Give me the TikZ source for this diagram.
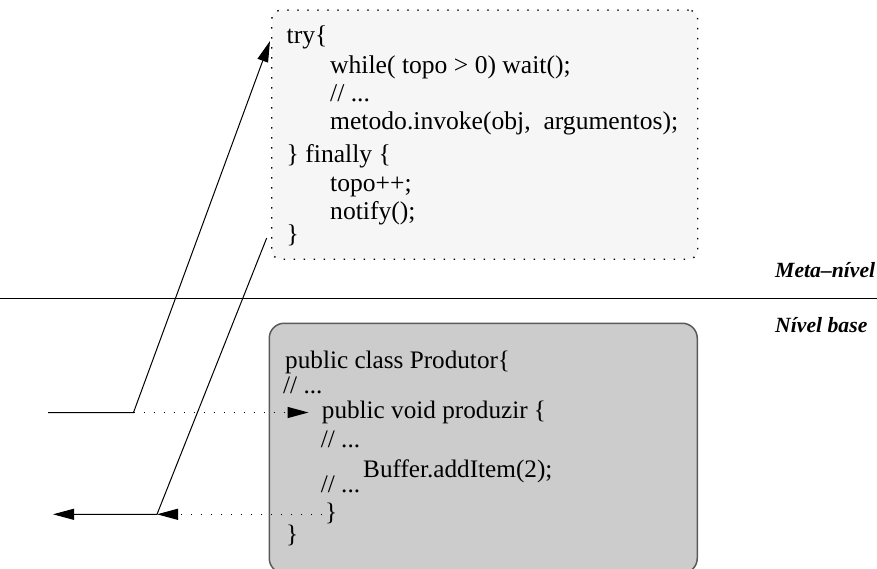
\documentclass[tikz,border=0pt]{standalone}
\usepackage{fontspec}
\setmainfont{Liberation Serif}
\usetikzlibrary{arrows.meta}
\definecolor{metafill}{HTML}{F6F6F6}
\definecolor{basefill}{HTML}{CCCCCC}
\definecolor{baseedge}{HTML}{5A5A5A}
\tikzset{
  metabox/.style={draw=black, fill=metafill, line width=1.4pt, dash pattern=on 1.4pt off 8.6pt, rounded corners=9pt, inner sep=0pt, anchor=north west},
  basebox/.style={draw=baseedge, fill=basefill, line width=1.5pt, rounded corners=15pt, inner sep=0pt, anchor=north west},
  codeA/.style={anchor=base west, inner sep=0pt, font=\fontsize{25.6}{30}\selectfont},
  codeB/.style={anchor=base west, inner sep=0pt, font=\fontsize{25.2}{30}\selectfont},
  levellabel/.style={anchor=base west, inner sep=0pt, font=\fontsize{21.7}{26}\selectfont\bfseries\itshape},
  solidconn/.style={draw=black, line width=1pt, -{Triangle[length=21pt,width=11pt]}},
  dotconn/.style={draw=black, line width=1.2pt, dash pattern=on 1.2pt off 8.8pt, -{Triangle[length=21pt,width=11pt]}},
}
\begin{document}
\begin{tikzpicture}[x=1pt,y=-1pt]
\useasboundingbox (0,0) rectangle (877,569);
% level separator
\coordinate (sepL) at (0,298);
\coordinate (sepR) at (877,298);
\draw[line width=1pt] (sepL) -- (sepR);
\node[levellabel] (metalbl) at (775,277) {Meta–nível};
\node[levellabel] (baselbl) at (775,332) {Nível base};
% boxes
\node[metabox, minimum width=426pt, minimum height=249pt] (meta) at (271,9.5) {};
\node[basebox, minimum width=428pt, minimum height=250pt] (base) at (268.5,322.5) {};
% meta-level code
\node[codeA] (try) at (286.5,44) {try\{};
\node[codeA] (while) at (330,74) {while( topo > 0) wait();};
\node[codeA] (cmA) at (330,102) {// ...};
\node[codeA] (invoke) at (330,129.5) {metodo.invoke(obj,\ \ argumentos);};
\node[codeA] (finally) at (286.5,163) {\} finally \{};
\node[codeA] (topo) at (330,192) {topo++;};
\node[codeA] (notify) at (330,219.5) {notify();};
\node[codeA] (closeA) at (286.5,242) {\}};
% base-level code
\node[codeB] (cls) at (285,368) {public class Produtor\{};
\node[codeB] (cmB) at (283,393.5) {// ...};
\node[codeB] (produzir) at (321.7,418.5) {public void produzir \{};
\node[codeB] (cmC) at (320.7,447) {// ...};
\node[codeB] (additem) at (363,477.5) {Buffer.addItem(2);};
\node[codeB] (cmD) at (320.7,492.5) {// ...};
\node[codeB] (closeB) at (325,520.5) {\}};
\node[codeB] (closeC) at (286,542.5) {\}};
% connectors
\coordinate (inL) at (48,412.5);
\coordinate (bendA) at (133.5,412.5);
\coordinate (tipA) at (270,41);
\coordinate (tipB) at (308.5,412.5);
\coordinate (outR) at (266.7,238);
\coordinate (bendB) at (157,514.3);
\coordinate (outL) at (53,514.3);
\coordinate (dotStart) at (322,514.3);
\draw[solidconn] (inL) -- (bendA) -- (tipA);
\draw[dotconn] (bendA) -- (tipB);
\draw[solidconn] (outR) -- (bendB) -- (outL);
\draw[dotconn] (dotStart) -- (bendB);
\end{tikzpicture}
\end{document}
